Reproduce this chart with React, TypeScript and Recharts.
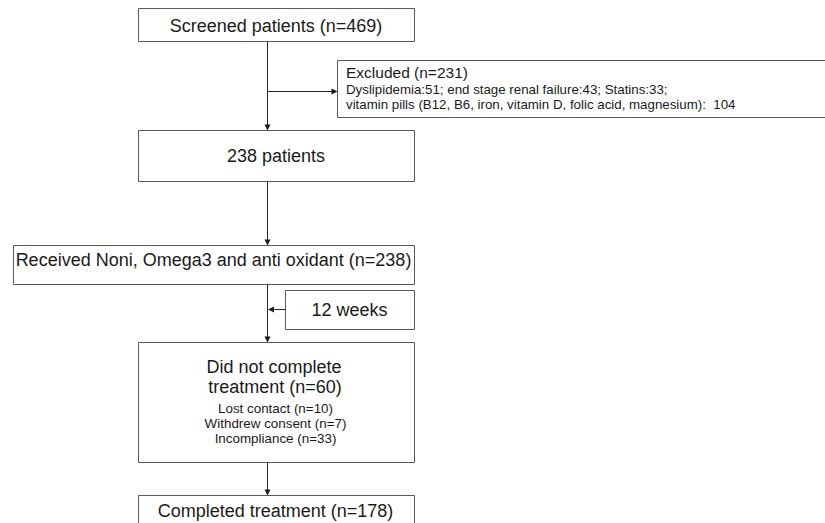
import {
  ComposedChart,
  XAxis,
  YAxis,
  Scatter,
  ReferenceArea,
  ReferenceLine,
} from "recharts";

// flow counts
const screenedTotal = 469;
const excludedTotal = 231;
const exclusionReasons = [
  "Dyslipidemia",
  "end stage renal failure",
  "Statins",
  "vitamin pills (B12, B6, iron, vitamin D, folic acid, magnesium)",
];
const exclusionCounts = [51, 43, 33, 104];
const eligibleTotal = 238;
const treatmentName = "Noni, Omega3 and anti oxidant";
const followUpWeeks = 12;
const dropoutTotal = 60;
const dropoutReasons = ["Lost contact", "Withdrew consent", "Incompliance"];
const dropoutCounts = [10, 7, 33];
const completedTotal = 178;

const W = 825;
const H = 523;
const FONT = "'Liberation Sans', Arial, sans-serif";

// layout in page pixels (y grows downwards)
const boxes = [
  { x1: 138.5, x2: 414.5, y1: 8.5, y2: 41.5 },
  { x1: 337.5, x2: 840, y1: 60.5, y2: 117.5 },
  { x1: 138.5, x2: 414.5, y1: 130.5, y2: 181.5 },
  { x1: 13.5, x2: 414.5, y1: 245.5, y2: 284.5 },
  { x1: 285.5, x2: 414.5, y1: 290.5, y2: 329.5 },
  { x1: 138.5, x2: 414.5, y1: 342.5, y2: 462.5 },
  { x1: 138.5, x2: 414.5, y1: 495.5, y2: 560 },
];

const connectors = [
  [{ x: 267.5, y: 41.5 }, { x: 267.5, y: 126 }],
  [{ x: 267.5, y: 91.5 }, { x: 333, y: 91.5 }],
  [{ x: 267.5, y: 181.5 }, { x: 267.5, y: 241 }],
  [{ x: 267.5, y: 284.5 }, { x: 267.5, y: 338 }],
  [{ x: 285.5, y: 309.5 }, { x: 272, y: 309.5 }],
  [{ x: 267.5, y: 462.5 }, { x: 267.5, y: 491 }],
];

const arrowHeads = [
  { x: 267.5, y: 130.5, dir: "down" },
  { x: 337.5, y: 91.5, dir: "right" },
  { x: 267.5, y: 245.5, dir: "down" },
  { x: 268, y: 309.5, dir: "left" },
  { x: 267.5, y: 342.5, dir: "down" },
  { x: 267.5, y: 495.5, dir: "down" },
];

const exclusionLine1 = exclusionReasons
  .slice(0, 3)
  .map((r, i) => `${r}:${exclusionCounts[i]};`)
  .join(" ");
const exclusionLine2 = `${exclusionReasons[3]}:  ${exclusionCounts[3]}`;

const labels = [
  { x: 276, y: 32, text: `Screened patients (n=${screenedTotal})`, size: 18, anchor: "middle" },
  { x: 346, y: 78, text: `Excluded (n=${excludedTotal})`, size: 15.5, anchor: "start" },
  { x: 346, y: 94, text: exclusionLine1, size: 13.3, anchor: "start" },
  { x: 346, y: 109, text: exclusionLine2, size: 13.3, anchor: "start" },
  { x: 276, y: 162, text: `${eligibleTotal} patients`, size: 18, anchor: "middle" },
  { x: 213.5, y: 266, text: `Received ${treatmentName} (n=${eligibleTotal})`, size: 18, anchor: "middle" },
  { x: 349.5, y: 316, text: `${followUpWeeks} weeks`, size: 18, anchor: "middle" },
  { x: 274, y: 373, text: "Did not complete", size: 18, anchor: "middle" },
  { x: 275, y: 393, text: `treatment (n=${dropoutTotal})`, size: 18, anchor: "middle" },
  ...dropoutReasons.map((r, i) => ({
    x: 275.5,
    y: 413 + i * 15,
    text: `${r} (n=${dropoutCounts[i]})`,
    size: 13.4,
    anchor: "middle",
  })),
  { x: 275.5, y: 517, text: `Completed treatment (n=${completedTotal})`, size: 18, anchor: "middle" },
];

const TextShape = (props: any) => {
  const { cx, cy, payload } = props;
  return (
    <text
      x={cx}
      y={cy}
      textAnchor={payload.anchor}
      fontSize={payload.size}
      fontFamily={FONT}
      fill="#1a1a1a"
      style={{ whiteSpace: "pre" }}
    >
      {payload.text}
    </text>
  );
};

const ArrowShape = (props: any) => {
  const { cx, cy, payload } = props;
  const l = 6;
  const w = 3;
  let pts = "";
  if (payload.dir === "down") pts = `${cx},${cy} ${cx - w},${cy - l} ${cx + w},${cy - l}`;
  if (payload.dir === "right") pts = `${cx},${cy} ${cx - l},${cy - w} ${cx - l},${cy + w}`;
  if (payload.dir === "left") pts = `${cx},${cy} ${cx + l},${cy - w} ${cx + l},${cy + w}`;
  return <polygon points={pts} fill="#1a1a1a" />;
};

export default function App() {
  return (
    <div style={{ position: "absolute", left: 0, top: 0, width: W, height: H, background: "#fff" }}>
      <ComposedChart width={W} height={H} margin={{ top: 0, right: 0, bottom: 0, left: 0 }}>
        <XAxis type="number" dataKey="x" domain={[0, W]} allowDataOverflow hide />
        <YAxis type="number" dataKey="y" domain={[0, H]} allowDataOverflow reversed hide />

        {/* connectors */}
        {connectors.map((seg, i) => (
          <ReferenceLine key={`c${i}`} segment={seg} stroke="#262626" strokeWidth={1} ifOverflow="visible" />
        ))}

        {/* boxes */}
        {boxes.map((b, i) => (
          <ReferenceArea
            key={`b${i}`}
            x1={b.x1}
            x2={b.x2}
            y1={b.y1}
            y2={b.y2}
            fill="#ffffff"
            fillOpacity={1}
            stroke="#595959"
            strokeWidth={1}
            ifOverflow="hidden"
          />
        ))}

        <Scatter data={arrowHeads} shape={ArrowShape} isAnimationActive={false} />
        <Scatter data={labels} shape={TextShape} isAnimationActive={false} />
      </ComposedChart>
    </div>
  );
}
